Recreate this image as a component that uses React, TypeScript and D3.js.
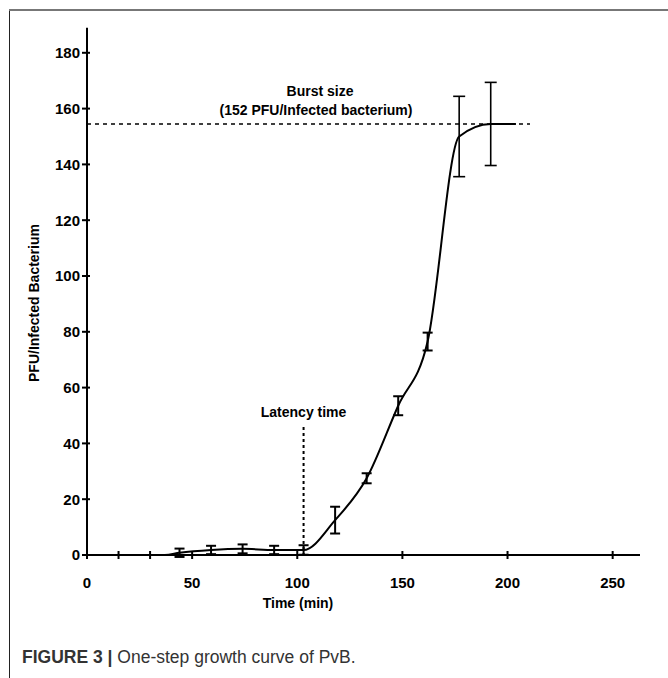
import React from "react";
import * as d3 from "d3";

const times = [44, 59, 74, 89, 103, 118, 133, 148, 162, 177, 192];
const means = [0.8, 1.8, 2.2, 1.8, 1.8, 12.5, 27.5, 53.5, 76.5, 150, 154.5];
const errs = [1.5, 1.5, 1.6, 1.5, 1.7, 4.8, 1.8, 3.4, 3.2, 14.4, 14.9];
const baseTimes = [0, 15, 30, 37];
const baseValues = [0, 0, 0, 0];
const endTime = [204];
const endValue = [154.5];
const xTicks = [0, 50, 100, 150, 200, 250];
const xMinorTicks = [15, 30];
const yTicks = [0, 20, 40, 60, 80, 100, 120, 140, 160, 180];
const burstValue = 154.5;
const latencyTime = 103;

export default function App() {
  const W = 668, H = 678;
  const x = d3.scaleLinear().domain([0, 263]).range([87, 640]);
  const y = d3.scaleLinear().domain([0, 189]).range([555, 555 - 189 * 2.79]);

  const pts: [number, number][] = [
    ...baseTimes.map((t, i) => [t, baseValues[i]] as [number, number]),
    ...times.map((t, i) => [t, means[i]] as [number, number]),
    ...endTime.map((t, i) => [t, endValue[i]] as [number, number]),
  ];
  const line = d3.line<[number, number]>().x(d => x(d[0])).y(d => y(d[1])).curve(d3.curveMonotoneX);

  const font = "'Liberation Sans', Arial, sans-serif";
  const x0 = x(0), y0 = y(0);

  return (
    <svg width={W} height={H} style={{ position: "absolute", left: 0, top: 0, background: "#fff" }} fontFamily={font}>
      <rect x={0} y={0} width={W} height={H} fill="#fff" />
      {/* frame */}
      <line x1={9.5} y1={10} x2={9.5} y2={H} stroke="#222" strokeWidth={1} />
      <line x1={9} y1={10} x2={W} y2={10} stroke="#777" strokeWidth={2} />

      {/* y axis */}
      <line x1={x0} y1={y(189)} x2={x0} y2={y0} stroke="#000" strokeWidth={2} />
      {yTicks.map(t => (
        <g key={"y" + t}>
          <line x1={x0 - 5} x2={x0 + 3} y1={y(t)} y2={y(t)} stroke="#000" strokeWidth={2} />
          <text x={x0 - 7} y={y(t)} dy="0.36em" textAnchor="end" fontSize={15} fontWeight="bold">{t}</text>
        </g>
      ))}
      {/* x axis */}
      <line x1={x0} y1={y0} x2={x(263)} y2={y0} stroke="#000" strokeWidth={2} />
      {[...xTicks, ...xMinorTicks].map(t => (
        <line key={"xt" + t} x1={x(t)} x2={x(t)} y1={y0 - 4} y2={y0 + 4} stroke="#000" strokeWidth={2} />
      ))}
      {xTicks.map(t => (
        <text key={"xl" + t} x={x(t)} y={583} dy="0.36em" textAnchor="middle" fontSize={15} fontWeight="bold">{t}</text>
      ))}
      <text x={298} y={603} dy="0.36em" textAnchor="middle" fontSize={14} fontWeight="bold">Time (min)</text>
      <text transform={`translate(34,303) rotate(-90)`} textAnchor="middle" dy="0.36em" fontSize={14} fontWeight="bold">PFU/Infected Bacterium</text>

      {/* burst line */}
      <line x1={x0} x2={530} y1={y(burstValue)} y2={y(burstValue)} stroke="#000" strokeWidth={1.5} strokeDasharray="4,4" />
      <text x={320} y={91} dy="0.36em" textAnchor="middle" fontSize={14} fontWeight="bold">Burst size</text>
      <text x={316} y={110} dy="0.36em" textAnchor="middle" fontSize={14} fontWeight="bold">(152 PFU/Infected bacterium)</text>

      {/* latency */}
      <line x1={x(latencyTime)} x2={x(latencyTime)} y1={427} y2={y0} stroke="#000" strokeWidth={2} strokeDasharray="3,3" />
      <text x={x(latencyTime)} y={412} dy="0.36em" textAnchor="middle" fontSize={14} fontWeight="bold">Latency time</text>

      {/* curve */}
      <path d={line(pts) || ""} fill="none" stroke="#000" strokeWidth={2} />

      {/* error bars */}
      {times.map((t, i) => {
        const cx = x(t);
        const yt = y(means[i] + errs[i]);
        const yb = y(means[i] - errs[i]);
        const sw = i >= 9 ? 1.6 : 2;
        const cw = i >= 9 ? 6 : 5;
        return (
          <g key={"e" + i} stroke="#000" strokeWidth={sw}>
            <line x1={cx} x2={cx} y1={yt} y2={yb} />
            <line x1={cx - cw} x2={cx + cw} y1={yt} y2={yt} />
            <line x1={cx - cw} x2={cx + cw} y1={yb} y2={yb} />
          </g>
        );
      })}

      {/* caption */}
      <text x={22} y={663} fontSize={17.5} fill="#333">
        <tspan fontWeight="bold">FIGURE 3 | </tspan>
        <tspan>One-step growth curve of PvB.</tspan>
      </text>
    </svg>
  );
}
